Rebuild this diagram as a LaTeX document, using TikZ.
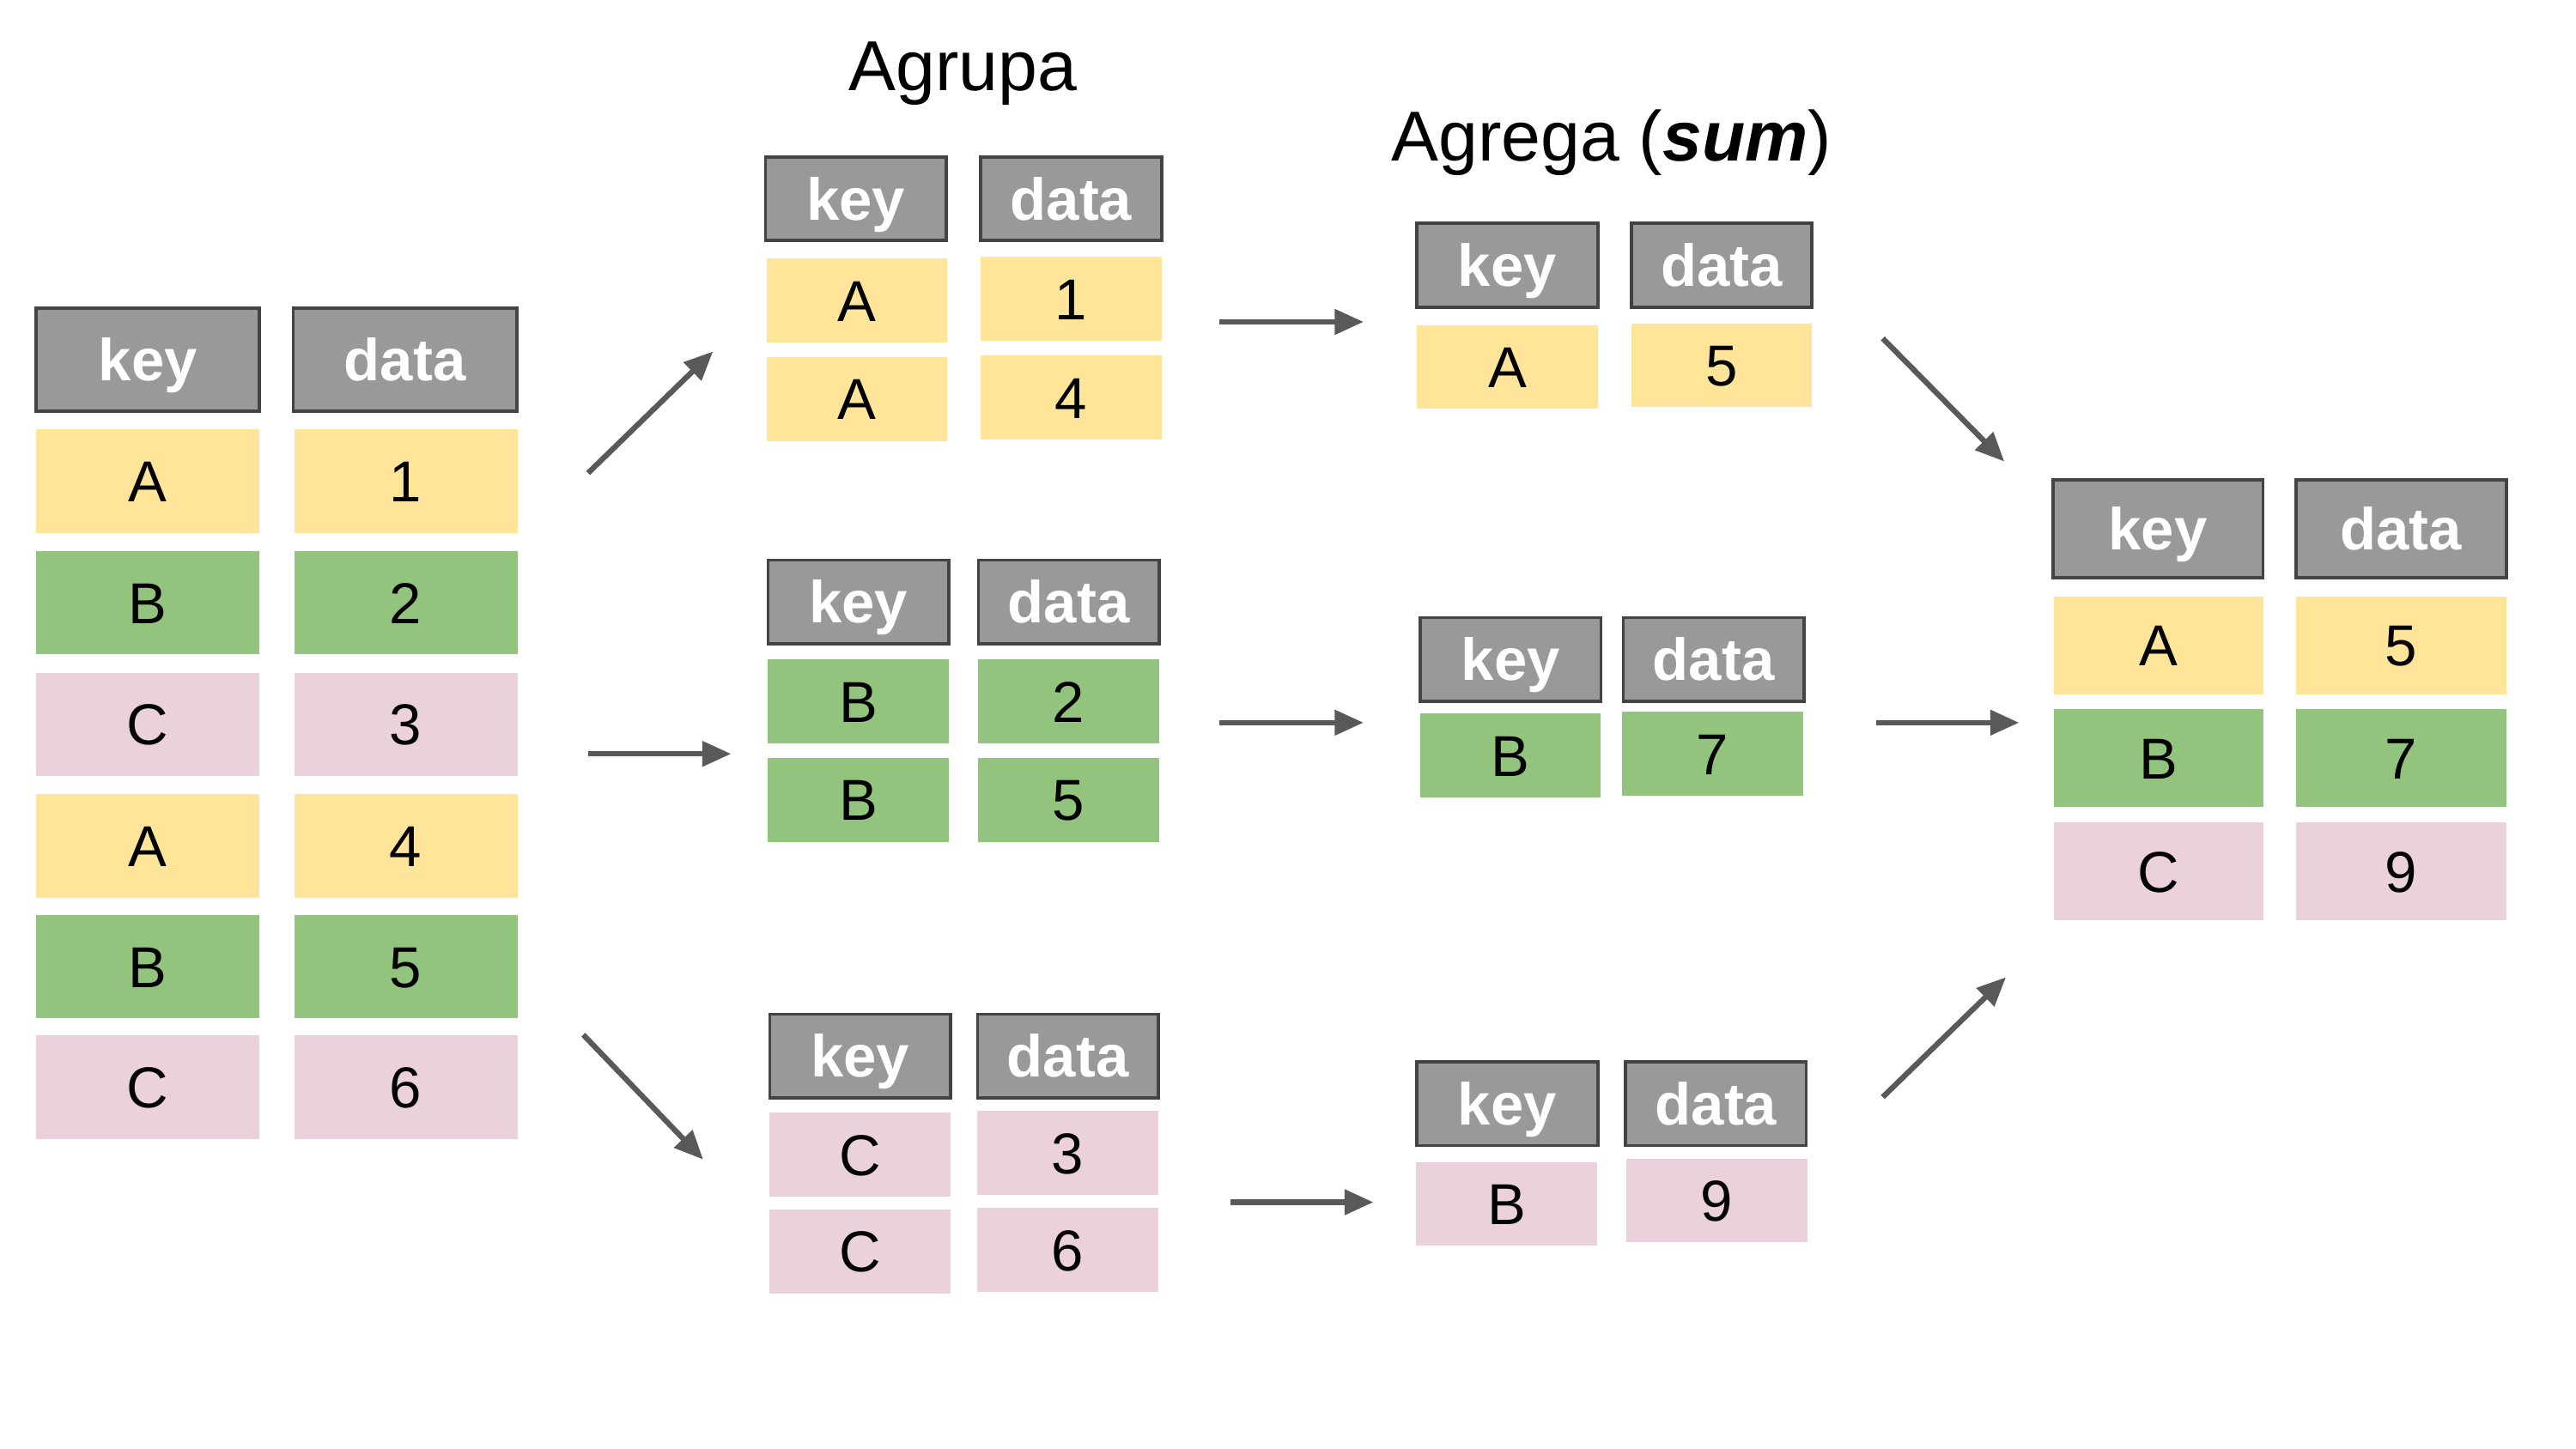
\documentclass[tikz,border=0pt]{standalone}
\usepackage{fontspec}
\setmainfont{Liberation Sans}
\usetikzlibrary{arrows.meta}
\definecolor{hdgray}{HTML}{999999}
\definecolor{hdline}{HTML}{434343}
\definecolor{cyel}{HTML}{FFE599}
\definecolor{cgrn}{HTML}{93C47D}
\definecolor{cpnk}{HTML}{EAD1DC}
\definecolor{arrgray}{HTML}{595959}
\begin{document}
\begin{tikzpicture}[x=0.02cm,y=-0.02cm,
  head/.style={draw=hdline,line width=1.1pt,fill=hdgray,text=white,inner sep=0pt,
    text height=14.6pt,text depth=0pt,font=\fontsize{20.5}{24}\selectfont\bfseries},
  cell/.style={inner sep=0pt,text height=14.3pt,text depth=0pt,
    font=\fontsize{20}{24}\selectfont},
  yel/.style={cell,fill=cyel},
  grn/.style={cell,fill=cgrn},
  pnk/.style={cell,fill=cpnk},
  big/.style={minimum width=2.72cm,minimum height=1.26cm},
  mid/.style={minimum width=2.2cm,minimum height=1.02cm},
  fin/.style={minimum width=2.56cm,minimum height=1.19cm},
  arr/.style={draw=arrgray,line width=1.9pt,-{Triangle[length=10pt,width=8.5pt]}},
  ttl/.style={font=\fontsize{24.5}{30}\selectfont}]

  \useasboundingbox(0,0)rectangle(1568,882);

  % table de depart
  \node[head,big](lk0)at(90,219){key};
  \node[head,big](ld0)at(246.5,219){data};
  \node[yel,big](lk1)at(90,293){A};   \node[yel,big](ld1)at(247,293){1};
  \node[grn,big](lk2)at(90,367){B};   \node[grn,big](ld2)at(247,367){2};
  \node[pnk,big](lk3)at(90,441){C};   \node[pnk,big](ld3)at(247,441){3};
  \node[yel,big](lk4)at(90,515){A};   \node[yel,big](ld4)at(247,515){4};
  \node[grn,big](lk5)at(90,588.5){B}; \node[grn,big](ld5)at(247,588.5){5};
  \node[pnk,big](lk6)at(90,662){C};   \node[pnk,big](ld6)at(247,662){6};

  % Agrupa
  \node[ttl](tagr)at(586,45){Agrupa};

  \node[head,mid](ak0)at(521,121){key};
  \node[head,mid](ad0)at(652,121){data};
  \node[yel,mid](ak1)at(521.5,183){A}; \node[yel,mid](ad1)at(652,182){1};
  \node[yel,mid](ak2)at(521.5,243){A}; \node[yel,mid](ad2)at(652,242){4};

  \node[head,mid](bk0)at(522.5,366.5){key};
  \node[head,mid](bd0)at(650.5,366.5){data};
  \node[grn,mid](bk1)at(522.5,427){B}; \node[grn,mid](bd1)at(650.5,427){2};
  \node[grn,mid](bk2)at(522.5,487){B}; \node[grn,mid](bd2)at(650.5,487){5};

  \node[head,mid](ck0)at(523.5,643){key};
  \node[head,mid](cd0)at(650,643){data};
  \node[pnk,mid](ck1)at(523.5,703){C}; \node[pnk,mid](cd1)at(650,702){3};
  \node[pnk,mid](ck2)at(523.5,762){C}; \node[pnk,mid](cd2)at(650,761){6};

  % Agrega
  \node[ttl](tsum)at(981,87){Agrega (\textbf{\textit{sum}})};

  \node[head,mid](sak0)at(917.5,161.5){key};
  \node[head,mid](sad0)at(1048,161.5){data};
  \node[yel,mid](sak1)at(917.5,223.5){A}; \node[yel,mid](sad1)at(1048,222.5){5};

  \node[head,mid](sbk0)at(919.5,401.5){key};
  \node[head,mid](sbd0)at(1043,401.5){data};
  \node[grn,mid](sbk1)at(919.5,460){B}; \node[grn,mid](sbd1)at(1042.5,459){7};

  \node[head,mid](sck0)at(917.5,672){key};
  \node[head,mid](scd0)at(1044.5,672){data};
  \node[pnk,mid](sck1)at(917,733){B}; \node[pnk,mid](scd1)at(1045,731){9};

  % resultat
  \node[head,fin](rk0)at(1313.5,322){key};
  \node[head,fin](rd0)at(1461.5,322){data};
  \node[yel,fin](rk1)at(1314,393){A};   \node[yel,fin](rd1)at(1461.5,393){5};
  \node[grn,fin](rk2)at(1314,461.5){B}; \node[grn,fin](rd2)at(1461.5,461.5){7};
  \node[pnk,fin](rk3)at(1314,530.5){C}; \node[pnk,fin](rd3)at(1461.5,530.5){9};

  % fleches
  \coordinate(s1)at(358,288);  \coordinate(e1)at(434,214);
  \coordinate(s2)at(358,459);  \coordinate(e2)at(445,459);
  \coordinate(s3)at(355,630);  \coordinate(e3)at(428,706);
  \coordinate(s4)at(742,196);  \coordinate(e4)at(830,196);
  \coordinate(s5)at(742,440);  \coordinate(e5)at(830,440);
  \coordinate(s6)at(749,732);  \coordinate(e6)at(836,732);
  \coordinate(s7)at(1146,206); \coordinate(e7)at(1220,281);
  \coordinate(s8)at(1142,440); \coordinate(e8)at(1229,440);
  \coordinate(s9)at(1146,668); \coordinate(e9)at(1221,595);

  \draw[arr](s1)--(e1);
  \draw[arr](s2)--(e2);
  \draw[arr](s3)--(e3);
  \draw[arr](s4)--(e4);
  \draw[arr](s5)--(e5);
  \draw[arr](s6)--(e6);
  \draw[arr](s7)--(e7);
  \draw[arr](s8)--(e8);
  \draw[arr](s9)--(e9);

\end{tikzpicture}
\end{document}
